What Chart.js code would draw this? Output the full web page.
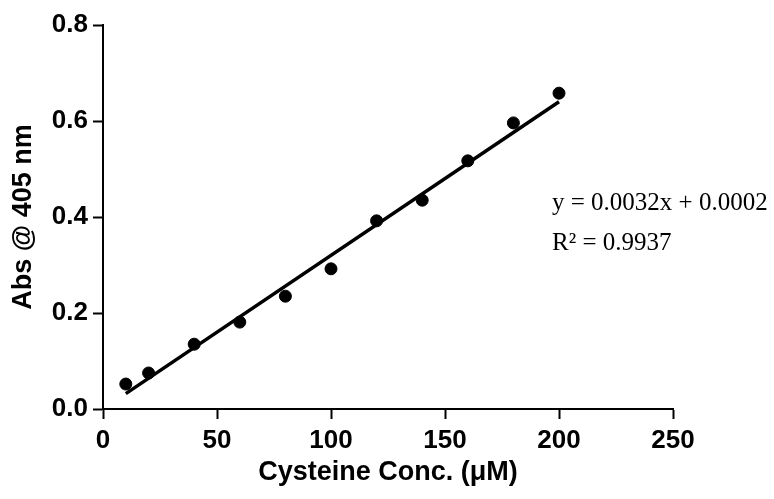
<!DOCTYPE html>
<html>
<head>
<meta charset="utf-8">
<script src="https://cdn.jsdelivr.net/npm/chart.js@4.4.1/dist/chart.umd.min.js"></script>
<style>
  body { margin: 0; background: #fff; }
  #wrap { position: relative; width: 774px; height: 499px; }
  #eq {
    position: absolute; left: 552px; top: 182px;
    font-family: "Liberation Serif", "Times New Roman", serif;
    font-size: 25px; line-height: 40px; color: #000; white-space: nowrap;
  }
</style>
</head>
<body>
<div id="wrap">
  <canvas id="chart" width="774" height="499"></canvas>
  <div id="eq">y = 0.0032x + 0.0002<br>R² = 0.9937</div>
</div>
<script>
// Measured points
const concX = [10, 20, 40, 60, 80, 100, 120, 140, 160, 180, 200];
const absY = [0.052, 0.075, 0.135, 0.181, 0.235, 0.292, 0.392, 0.435, 0.517, 0.596, 0.658];

// Linear fit endpoints
const fitX = [10, 200];
const fitY = [0.032, 0.640];

const xTicks = [0, 50, 100, 150, 200, 250];
const yTicks = [0.0, 0.2, 0.4, 0.6, 0.8];

const tickFont = { family: "Liberation Sans, Arial, sans-serif", size: 26, weight: "bold" };
const titleFont = { family: "Liberation Sans, Arial, sans-serif", size: 27, weight: "bold" };

let ctx = document.getElementById("chart").getContext("2d");

let chart = new Chart(ctx, {
  type: "scatter",
  data: {
    datasets: [
      {
        label: "Data",
        data: concX.map((x, i) => ({ x: x, y: absY[i] })),
        backgroundColor: "#000",
        borderColor: "#000",
        pointRadius: 6,
        pointHoverRadius: 6,
      },
      {
        label: "Fit",
        type: "line",
        data: fitX.map((x, i) => ({ x: x, y: fitY[i] })),
        borderColor: "#000",
        borderWidth: 3.5,
        pointRadius: 0,
        fill: false,
      },
    ],
  },
  options: {
    responsive: false,
    animation: false,
    layout: { padding: { left: 0, right: 101, top: 25, bottom: 0 } },
    plugins: { legend: { display: false }, tooltip: { enabled: false } },
    scales: {
      x: {
        type: "linear",
        min: 0,
        max: 250,
        afterBuildTicks: (s) => { s.ticks = xTicks.map(v => ({ value: v })); },
        afterFit: (s) => { s.height = 90; },
        grid: { drawOnChartArea: false, drawTicks: true, tickLength: 10, tickWidth: 2, tickColor: "#000" },
        border: { display: true, color: "#000", width: 2 },
        ticks: { color: "#000", font: tickFont, padding: 6, maxRotation: 0 },
        title: { display: true, text: "Cysteine Conc. (μM)", color: "#000", font: titleFont, padding: { top: 0, bottom: 10 } },
      },
      y: {
        type: "linear",
        min: 0,
        max: 0.8,
        afterBuildTicks: (s) => { s.ticks = yTicks.map(v => ({ value: v })); },
        afterFit: (s) => { s.width = 103; },
        grid: { drawOnChartArea: false, drawTicks: true, tickLength: 10, tickWidth: 2, tickColor: "#000" },
        border: { display: true, color: "#000", width: 2 },
        ticks: { color: "#000", font: tickFont, padding: 5, callback: (v) => v.toFixed(1) },
        title: { display: true, text: "Abs @ 405 nm", color: "#000", font: titleFont, padding: { top: 7, bottom: 0 } },
      },
    },
  },
});
</script>
</body>
</html>
